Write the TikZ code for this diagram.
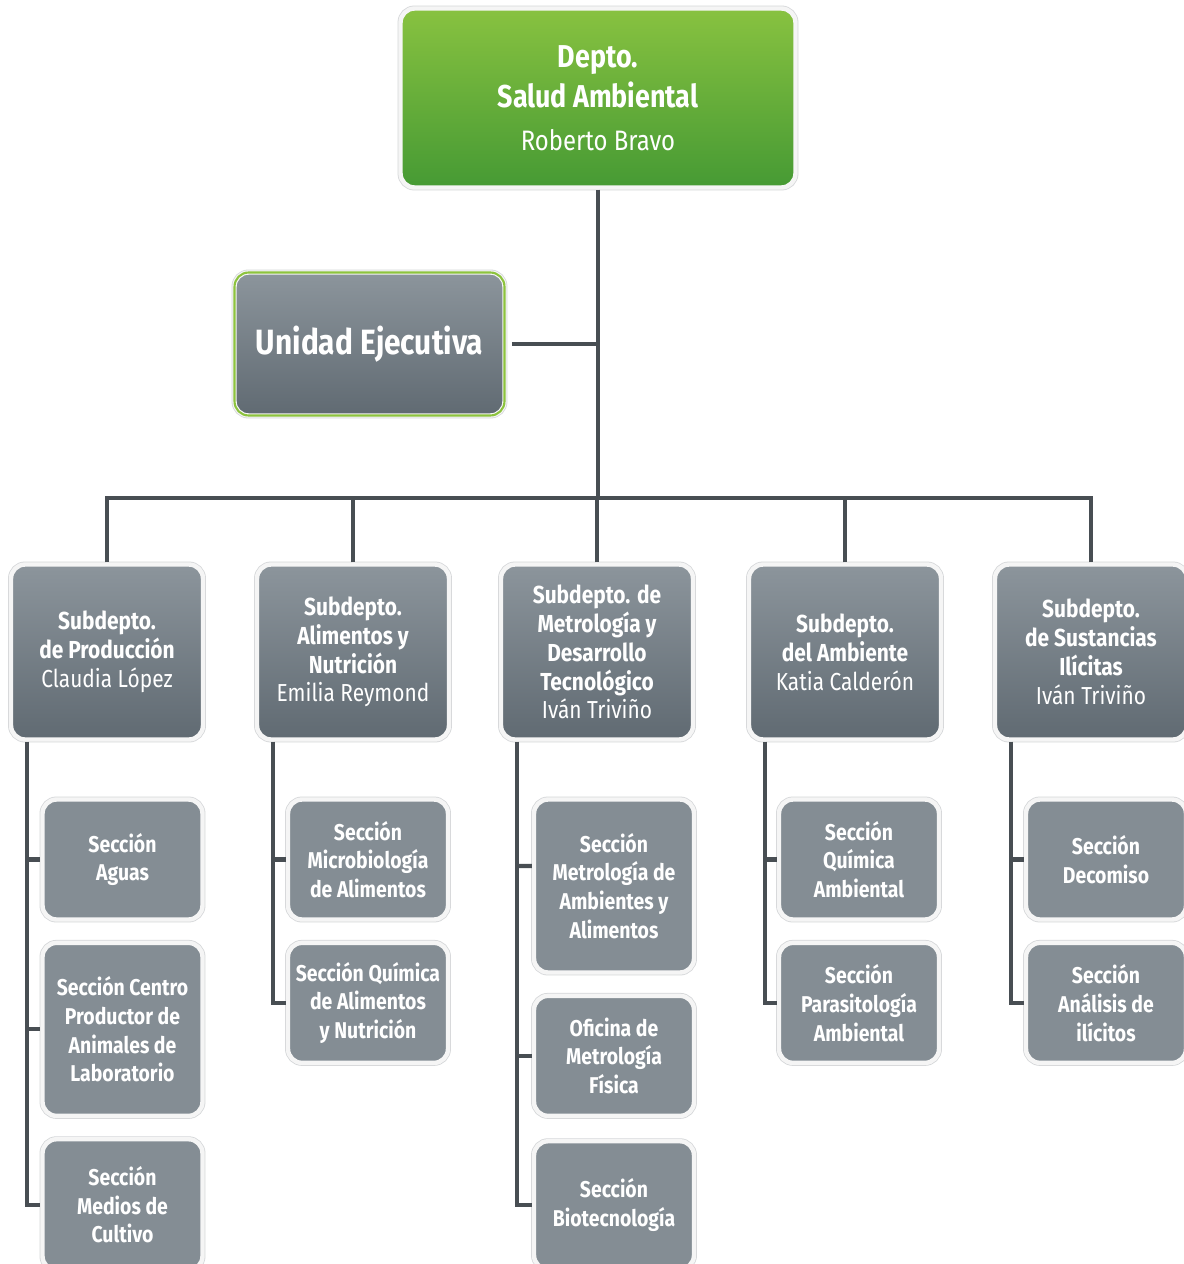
\documentclass[tikz,border=0pt]{standalone}
\usepackage{fontspec}
\setmainfont{Fira Sans}[FakeStretch=0.85]
\newcommand{\personname}[1]{{\mdseries #1}}
\usetikzlibrary{positioning,shadows}
\definecolor{sagreen1}{RGB}{136,194,64}
\definecolor{sagreen2}{RGB}{70,154,52}
\definecolor{sagray1}{RGB}{140,149,156}
\definecolor{sagray2}{RGB}{96,106,114}
\definecolor{sagray3}{RGB}{132,141,148}
\definecolor{saframe}{RGB}{212,214,216}
\definecolor{saline}{RGB}{72,78,83}
\definecolor{saborder}{RGB}{141,195,62}
\tikzstyle{conn} = [line width=2.3pt, color=saline]
\tikzstyle{framed} = [rounded corners=8pt, text=white, align=center, preaction={draw=saframe, line width=3.4pt}, draw=white!96!black, line width=2.5pt]
\tikzstyle{depto} = [framed, top color=sagreen1, bottom color=sagreen2, minimum width=7.9cm, minimum height=3.58cm, font=\fontsize{18}{22.5}\selectfont\bfseries]
\tikzstyle{unidad} = [framed, top color=sagray1, bottom color=sagray2, minimum width=5.4cm, minimum height=2.86cm, font=\fontsize{20}{24}\selectfont\bfseries, postaction={draw=saborder, line width=1.2pt}]
\tikzstyle{subdepto} = [framed, top color=sagray1, bottom color=sagray2, minimum width=3.84cm, minimum height=3.5cm, font=\fontsize{14}{16.4}\selectfont\bfseries]
\tikzstyle{seccion} = [framed, fill=sagray3, minimum width=3.2cm, minimum height=2.4cm, font=\fontsize{13}{16.4}\selectfont\bfseries]
\tikzstyle{tallsec} = [seccion, minimum height=3.46cm]

\begin{document}
\begin{tikzpicture}[x=0.02cm, y=-0.02cm, node distance=0.38cm]
\useasboundingbox (0,0) rectangle (1183,1264);
% Department and executive unit
\node (depto) [depto] at (598,98) {Depto.\\Salud Ambiental\\[2pt]{\fontsize{16}{19}\selectfont\personname{Roberto Bravo}}};
\node (unidad) [unidad] at (369.5,344) {Unidad Ejecutiva};

% Sub-departments
\node (prod) [subdepto] at (107,652) {Subdepto.\\de Producción\\\personname{Claudia López}};
\node (alim) [subdepto] at (353,652) {Subdepto.\\Alimentos y\\Nutrición\\\personname{Emilia Reymond}};
\node (metro) [subdepto] at (597,652) {Subdepto. de\\Metrología y\\Desarrollo\\Tecnológico\\\personname{Iván Triviño}};
\node (amb) [subdepto] at (845,652) {Subdepto.\\del Ambiente\\\personname{Katia Calderón}};
\node (sust) [subdepto] at (1091,652) {Subdepto.\\de Sustancias\\Ilícitas\\\personname{Iván Triviño}};

% Sections
\node (aguas) [seccion] at (122.5,859.5) {Sección\\Aguas};
\node (centro) [tallsec, below=of aguas] {Sección Centro\\Productor de\\Animales de\\Laboratorio};
\node (medios) [seccion, below=of centro, minimum height=2.62cm] {Sección\\Medios de\\Cultivo};

\node (micro) [seccion] at (368,859.5) {Sección\\Microbiología\\de Alimentos};
\node (quimali) [seccion, below=of micro] {Sección Química\\de Alimentos\\y Nutrición};

\node (metamb) [tallsec] at (614,886) {Sección\\Metrología de\\Ambientes y\\Alimentos};
\node (ofic) [seccion, below=of metamb] {Oficina de\\Metrología\\Física};
\node (biotec) [seccion, below=of ofic, yshift=-0.04cm, minimum height=2.56cm] {Sección\\Biotecnología};

\node (quimamb) [seccion] at (859,859.5) {Sección\\Química\\Ambiental};
\node (parasit) [seccion, below=of quimamb] {Sección\\Parasitología\\Ambiental};

\node (decom) [seccion] at (1106,859.5) {Sección\\Decomiso};
\node (ilic) [seccion, below=of decom] {Sección\\Análisis de\\ilícitos};

% Connectors
\coordinate (hub) at (598,498);
\draw[conn] (depto.south) -- (hub);
\draw[conn] ([xshift=3pt]unidad.east) -- (unidad.east -| depto.south);
\draw[conn] (prod.north) |- (hub);
\draw[conn] (alim.north) |- (hub);
\draw[conn] (metro.north) -- (metro.north |- hub);
\draw[conn] (amb.north) |- (hub);
\draw[conn] (sust.north) |- (hub);

\coordinate (pcol) at ([xshift=0.36cm]prod.south west);
\draw[conn] (pcol) |- (medios.west);
\draw[conn] (pcol |- aguas.west) -- (aguas.west);
\draw[conn] (pcol |- centro.west) -- (centro.west);

\coordinate (acol) at ([xshift=0.36cm]alim.south west);
\draw[conn] (acol) |- (quimali.west);
\draw[conn] (acol |- micro.west) -- (micro.west);

\coordinate (mcol) at ([xshift=0.36cm]metro.south west);
\draw[conn] (mcol) |- (biotec.west);
\draw[conn] (mcol |- metamb.west) ++(0,-20) -- ([yshift=0.4cm]metamb.west);
\draw[conn] (mcol |- ofic.west) -- (ofic.west);

\coordinate (bcol) at ([xshift=0.36cm]amb.south west);
\draw[conn] (bcol) |- (parasit.west);
\draw[conn] (bcol |- quimamb.west) -- (quimamb.west);

\coordinate (scol) at ([xshift=0.36cm]sust.south west);
\draw[conn] (scol) |- (ilic.west);
\draw[conn] (scol |- decom.west) -- (decom.west);
\end{tikzpicture}
\end{document}
